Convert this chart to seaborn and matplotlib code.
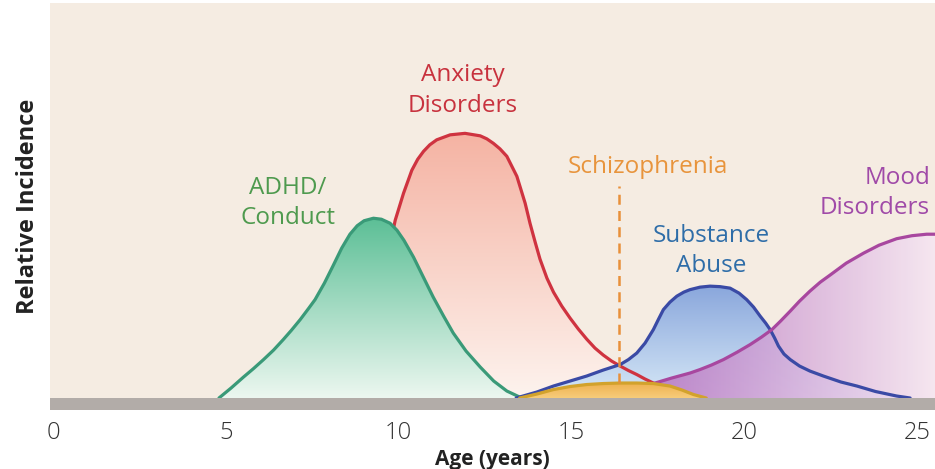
import matplotlib
matplotlib.use("Agg")
import matplotlib.pyplot as plt
from matplotlib.colors import to_rgb
import numpy as np
import seaborn as sns

# Ages (years) and relative incidence (arbitrary units)
adhd_age = [4.8, 5.15, 5.51, 5.8, 6.09, 6.38, 6.66, 6.9, 7.15, 7.4, 7.58, 7.85, 8.11,
            8.35, 8.59, 8.8, 9.0, 9.27, 9.5, 9.75, 9.95, 10.15, 10.43, 10.7, 11.0,
            11.3, 11.58, 11.95, 12.36, 12.75, 13.13, 13.56]
adhd_val = [0, 10, 21, 29.5, 38.5, 48, 58.5, 68, 78.5, 90, 98.5, 115, 133,
            150, 164, 172.5, 177.5, 180, 179, 175, 168, 158, 141, 122, 101,
            82, 65, 47, 31, 17, 7, 0]

anx_age = [8.6, 9.0, 9.4, 9.7, 9.9, 10.14, 10.38, 10.55, 10.72, 10.9, 11.1, 11.49,
           11.92, 12.36, 12.55, 12.74, 12.93, 13.13, 13.42, 13.66, 13.8, 13.95, 14.09,
           14.29, 14.48, 14.72, 14.96, 15.2, 15.44, 15.68, 15.92, 16.16, 16.41, 16.65,
           16.89, 17.13, 17.37, 17.7, 18.1, 18.6]
anx_val = [0, 30, 90, 145, 178, 205, 228, 239, 247, 253.5, 258.5, 263.5,
           265, 262.5, 259.5, 255, 249.5, 242, 222, 195, 175, 156, 139,
           120, 106, 92, 80, 69, 59, 50, 43, 37, 32, 27.5,
           23.5, 19, 15, 10, 5, 0]

sub_age = [13.4, 14.0, 14.48, 14.96, 15.44, 15.92, 16.41, 16.65, 16.89, 17.13, 17.37,
           17.52, 17.66, 17.85, 18.05, 18.25, 18.43, 18.72, 19.01, 19.3, 19.59, 19.85,
           20.07, 20.27, 20.46, 20.62, 20.75, 20.88, 20.99, 21.15, 21.33, 21.6, 21.9,
           22.29, 22.8, 23.26, 23.8, 24.41, 24.8]
sub_val = [0, 6, 12, 17, 22, 28, 33.5, 38.5, 45, 55, 68.5,
           79, 88.5, 96, 102, 106, 108.5, 111, 112, 111.5, 110, 105,
           98.5, 91, 82, 75, 68.5, 60, 52, 44, 38.5, 32, 27,
           22, 16, 12, 6.5, 2, 0]

mood_age = [16.3, 16.8, 17.37, 17.9, 18.43, 18.72, 19.05, 19.4, 19.8, 20.17, 20.5,
            20.8, 21.05, 21.33, 21.6, 21.9, 22.2, 22.48, 22.95, 23.45, 23.9, 24.41,
            24.85, 25.28, 25.55]
mood_val = [0, 8, 14.5, 20, 25, 28.5, 33, 38.5, 46, 53.5, 61,
            68.5, 77, 87, 97, 107, 116, 123, 135, 145, 153, 159.5,
            162.5, 164, 164]

schiz_age = [13.5, 14.0, 14.48, 14.96, 15.44, 15.92, 16.41, 16.89, 17.37, 17.85,
             18.2, 18.53, 18.9]
schiz_val = [0, 4, 8.5, 11.5, 13.5, 14.5, 15, 15, 14.5, 12, 8, 3.5, 0]

schiz_marker_age = 16.38
schiz_marker_top = 212

age_ticks = [0, 5, 10, 15, 20, 25]

sns.set_style("white")
plt.rcParams["font.family"] = ["Open Sans", "DejaVu Sans"]

fig = plt.figure(figsize=(9.35, 4.69), dpi=100)
ax = fig.add_axes([50 / 935, 59 / 469, 885 / 935, 407 / 469])
ax.set_facecolor("#f5ece2")


def gradient_fill(ax, x, y, c_a, c_b, horizontal=False, alpha=1.0, zorder=1):
    x = np.asarray(x, float)
    y = np.asarray(y, float)
    poly = ax.fill_between(x, y, 0, facecolor="none", edgecolor="none")
    t = np.linspace(0, 1, 256)
    a, b = np.array(to_rgb(c_a)), np.array(to_rgb(c_b))
    cols = a + (b - a) * t[:, None]
    img = cols[None, :, :] if horizontal else cols[:, None, :]
    im = ax.imshow(img, extent=[x.min(), x.max(), 0, y.max()], origin="lower",
                   aspect="auto", alpha=alpha, zorder=zorder, interpolation="bilinear")
    im.set_clip_path(poly.get_paths()[0], ax.transData)


line_kw = dict(lw=2.3, ax=ax, sort=False, solid_joinstyle="round")

# anxiety
gradient_fill(ax, anx_age, anx_val, "#fdf3ee", "#f5b3a3", zorder=1)
sns.lineplot(x=anx_age, y=anx_val, color="#cf3340", zorder=2, **line_kw)
# substance abuse + mood
gradient_fill(ax, sub_age, sub_val, "#d6e8f7", "#8aa7dc", zorder=1.5)
gradient_fill(ax, mood_age, mood_val, "#b066bb", "#f6e6f3", horizontal=True,
              alpha=0.85, zorder=1.6)
# adhd
gradient_fill(ax, adhd_age, adhd_val, "#ecf7f0", "#5cbf96", zorder=3)
sns.lineplot(x=adhd_age, y=adhd_val, color="#3a9a78", zorder=4, **line_kw)
sns.lineplot(x=sub_age, y=sub_val, color="#3a4aa5", zorder=5, **line_kw)
sns.lineplot(x=mood_age, y=mood_val, color="#a8479f", zorder=5, **line_kw)
# schizophrenia
gradient_fill(ax, schiz_age, schiz_val, "#f7cc7a", "#efb150", zorder=6)
sns.lineplot(x=schiz_age, y=schiz_val, color="#d2a22c", zorder=7, **line_kw)
ax.plot([schiz_marker_age, schiz_marker_age], [15, schiz_marker_top], color="#e8903a",
        lw=1.8, ls=(0, (4, 2.5)), zorder=8)

# baseline bar
ax.axhspan(-12, 0, color="#b2aca8", zorder=10, lw=0)

lab = dict(fontsize=17.5, ha="center", va="center", linespacing=1.35, zorder=12)
ax.text(11.86, 308, "Anxiety\nDisorders", color="#c8323e", **lab)
ax.text(6.80, 195, "ADHD/\nConduct", color="#4e9a4e", **lab)
ax.text(17.22, 231, "Schizophrenia", color="#e8943c", **lab)
ax.text(19.04, 147, "Substance\nAbuse", color="#2e6da8", **lab)
ax.text(25.38, 205, "Mood\nDisorders", color="#a04aa8", fontsize=17.5, ha="right",
        va="center", multialignment="right", linespacing=1.35, zorder=12)

ax.set_xlim(-0.09, 25.52)
ax.set_ylim(-12, 395.5)
ax.set_xticks(age_ticks)
ax.set_xticklabels([str(t) for t in age_ticks], fontweight="light", color="#333333")
ax.set_yticks([])
ax.tick_params(axis="x", length=0, pad=8, labelsize=17)
ax.set_xlabel("Age (years)", fontsize=15, fontweight="bold", color="#222222", labelpad=3)
ax.set_ylabel("Relative Incidence", fontsize=17, fontweight="bold", color="#222222",
              labelpad=7)
for s in ax.spines.values():
    s.set_visible(False)

fig.savefig("out.png", dpi=100, facecolor="white")
